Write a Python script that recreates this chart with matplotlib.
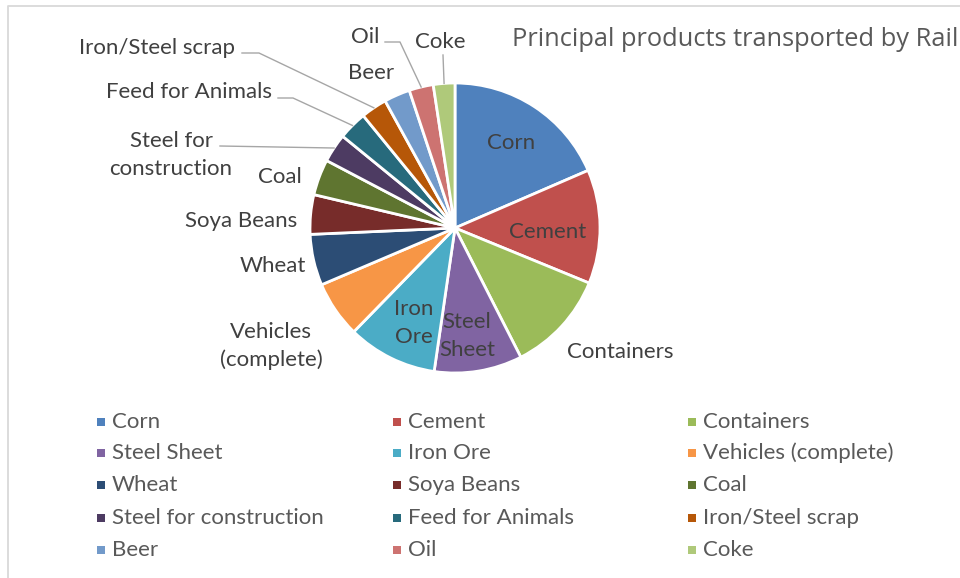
"""Pie chart: principal products transported by rail."""

import matplotlib

matplotlib.use("Agg")

import matplotlib.pyplot as plt
import numpy as np

W, H = 960, 578

products = [
    "Corn", "Cement", "Containers", "Steel Sheet", "Iron Ore",
    "Vehicles (complete)", "Wheat", "Soya Beans", "Coal",
    "Steel for construction", "Feed for Animals", "Iron/Steel scrap",
    "Beer", "Oil", "Coke",
]
shares = [18.5, 12.7, 11.3, 9.8, 10.0, 6.3, 5.7, 4.4, 4.0, 3.2, 3.2, 2.9, 2.9, 2.7, 2.4]
colors = [
    "#4F81BD", "#C0504D", "#9BBB59", "#8064A2", "#4BACC6", "#F79646",
    "#2C4D75", "#772C2A", "#5F7530", "#4D3B62", "#276A7C", "#B65708",
    "#729ACA", "#CD7371", "#AFC97A",
]
# label text as shown on the chart (line breaks where the chart wraps)
label_text = [
    "Corn", "Cement", "Containers", "Steel\nSheet", "Iron\nOre",
    "Vehicles\n(complete)", "Wheat", "Soya Beans", "Coal",
    "Steel for\nconstruction", "Feed for Animals", "Iron/Steel scrap",
    "Beer", "Oil", "Coke",
]

INK = "#404040"
MUTED = "#595959"
BORDER = "#D9D9D9"
LEADER = "#A6A6A6"
LABEL_FONT = "Lato"

# layout, in screen pixels (y measured from top)
CX, CY, R = 455, 228, 145
label_pos = [
    (511, 143), (548, 232), (620, 352), (467, 336), (414, 323),
    (271, 346), (273, 266), (241, 221), (280, 177),
    (171, 155), (189, 92), (157, 48),
    (371, 73), (365, 37), (440, 42),
]
# leader line start points (next to the label)
leader_start = {
    9: [(220, 146)],
    10: [(278, 98), (293, 98)],
    11: [(242, 53), (259, 53)],
    13: [(385, 42), (400, 42)],
    14: [(443, 55)],
}
legend_cols = [97, 393, 688]
legend_rows = [422, 453, 485, 518, 550]


def fy(y):
    return H - y


fig = plt.figure(figsize=(W / 100, H / 100), dpi=100)
ax = fig.add_axes([0, 0, 1, 1])

# chart area border (top and left edges visible)
ax.plot([8, 8, W], [0, fy(6), fy(6)], color=BORDER, linewidth=1.3, solid_capstyle="butt")

wedges, _ = ax.pie(
    shares,
    colors=colors,
    startangle=90,
    counterclock=False,
    center=(CX, fy(CY)),
    radius=R,
    wedgeprops={"edgecolor": "white", "linewidth": 2.0},
    frame=True,
)
ax.set_xlim(0, W)
ax.set_ylim(0, H)
ax.set_aspect("equal")
ax.axis("off")

for txt, (lx, ly) in zip(label_text, label_pos):
    ax.text(lx, fy(ly), txt, ha="center", va="center", fontsize=16,
            color=INK, family=LABEL_FONT, linespacing=1.45)

for i, pts in leader_start.items():
    w = wedges[i]
    mid = np.deg2rad((w.theta1 + w.theta2) / 2)
    end = (CX + R * np.cos(mid), fy(CY) + R * np.sin(mid))
    xs = [p[0] for p in pts] + [end[0]]
    ys = [fy(p[1]) for p in pts] + [end[1]]
    ax.plot(xs, ys, color=LEADER, linewidth=1.0)

ax.text(512, fy(40), "Principal products transported by Rail", ha="left",
        va="center", fontsize=18.3, color=MUTED, family="Open Sans")

for i, (name, col) in enumerate(zip(products, colors)):
    x = legend_cols[i % 3]
    y = legend_rows[i // 3]
    ax.scatter([x + 3.5], [fy(y)], marker="s", s=40, color=col, linewidths=0)
    ax.text(x + 15, fy(y), name, ha="left", va="center", fontsize=16,
            color=MUTED, family=LABEL_FONT)

fig.savefig("out.png", dpi=100)
